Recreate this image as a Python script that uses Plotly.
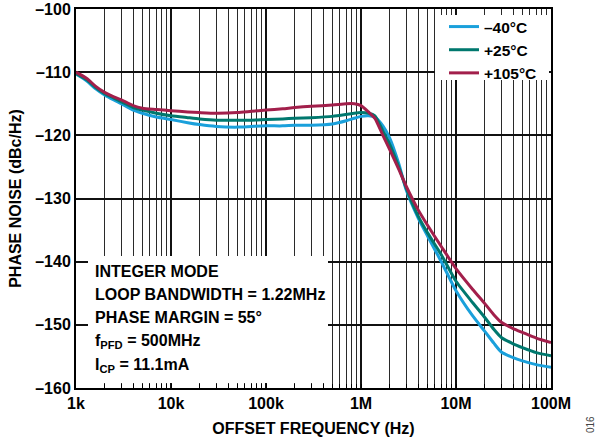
import plotly.graph_objects as go

freq_hz = [1e3, 1.3e3, 1.6e3, 2e3, 2.5e3, 3e3, 4e3, 5e3, 7e3, 1e4, 1.5e4, 2e4, 3e4, 5e4, 7e4,
           1e5, 1.5e5, 2e5, 3e5, 5e5, 7e5, 8.5e5, 1e6, 1.2e6, 1.4e6, 1.7e6, 2e6, 2.5e6, 3e6,
           4e6, 5e6, 7e6, 1e7, 1.5e7, 2e7, 2.5e7, 3e7, 4e7, 5e7, 7e7, 1e8]

pn_m40 = [-110.3, -111.4, -112.6, -113.6, -114.4, -115.0, -116.0, -116.5, -117.1, -117.5, -118.0,
          -118.3, -118.6, -118.7, -118.6, -118.5, -118.5, -118.4, -118.4, -118.2, -117.7, -117.3,
          -117.0, -116.9, -117.1, -118.5, -120.4, -124.5, -128.7, -133.1, -135.9, -140.0, -144.6,
          -148.6, -151.0, -152.9, -154.3, -155.2, -155.7, -156.3, -156.7]

pn_p25 = [-110.2, -111.2, -112.4, -113.4, -114.1, -114.7, -115.6, -116.0, -116.5, -116.9, -117.2,
          -117.4, -117.6, -117.6, -117.6, -117.5, -117.4, -117.3, -117.2, -117.0, -116.7, -116.5,
          -116.4, -116.5, -116.9, -119.3, -121.4, -125.0, -128.4, -132.8, -135.4, -138.9, -143.1,
          -146.5, -148.8, -150.7, -152.0, -153.0, -153.6, -154.4, -154.9]

pn_p105 = [-110.0, -111.0, -112.2, -113.2, -113.9, -114.4, -115.3, -115.7, -115.9, -116.1, -116.3,
           -116.4, -116.5, -116.4, -116.2, -116.0, -115.8, -115.6, -115.4, -115.2, -115.0, -115.0,
           -115.3, -116.3, -117.3, -120.0, -122.2, -125.4, -128.1, -131.8, -134.2, -137.6, -141.1,
           -144.4, -146.6, -148.4, -149.6, -150.6, -151.2, -152.1, -152.8]

series_names = ["–40°C", "+25°C", "+105°C"]
series_colors = ["#1aa0db", "#00786e", "#a21f4b"]

x_tick_vals = [1e3, 1e4, 1e5, 1e6, 1e7, 1e8]
x_tick_text = ["1k", "10k", "100k", "1M", "10M", "100M"]
y_tick_vals = [-160, -150, -140, -130, -120, -110, -100]
y_tick_text = ["–160", "–150", "–140", "–130", "–120", "–110", "–100"]

note_lines = [
    "INTEGER MODE",
    "LOOP BANDWIDTH = 1.22MHz",
    "PHASE MARGIN = 55°",
    "f<sub>PFD</sub> = 500MHz",
    "I<sub>CP</sub> = 11.1mA",
]

FONT = "Liberation Sans, Arial, sans-serif"
FS = 16

W, H = 600, 444
PL, PR, PT, PB = 76, 551, 9, 388          # plot area in window pixels
ml, mr, mt, mb = PL, W - PR, PT, H - PB
plot_w = PR - PL
plot_h = PB - PT


def px_x(x):
    return (x - PL) / plot_w


def px_y(y):
    return 1 - (y - PT) / plot_h


fig = go.Figure()
for name, col, ys in zip(series_names, series_colors, [pn_m40, pn_p25, pn_p105]):
    fig.add_trace(go.Scatter(x=freq_hz, y=ys, mode="lines", name=name,
                             line=dict(color=col, width=3, shape="spline", smoothing=0.6)))

fig.update_layout(
    width=W, height=H,
    margin=dict(l=ml, r=mr, t=mt, b=mb, autoexpand=False),
    paper_bgcolor="white", plot_bgcolor="white",
    font=dict(family=FONT, size=FS, color="black"),
    showlegend=True,
    legend=dict(x=px_x(444), y=px_y(10), xanchor="left", yanchor="top",
                bgcolor="rgba(0,0,0,0)", borderwidth=0,
                font=dict(family=FONT, size=15.5, weight="bold", color="black"),
                tracegroupgap=0, itemwidth=30),
)

fig.update_xaxes(
    type="log", range=[3, 8], automargin=False,
    tickvals=x_tick_vals, ticktext=x_tick_text,
    tickfont=dict(family=FONT, size=FS, weight="bold"),
    ticks="inside", ticklen=4, tickcolor="black", tickwidth=1,
    showgrid=True, gridcolor="#111111", gridwidth=1.5,
    minor=dict(dtick="D1", showgrid=True, gridcolor="#2a2a2a", gridwidth=1.2,
               ticks="inside", ticklen=4, tickcolor="black"),
    showline=True, linecolor="black", linewidth=2, mirror=True,
    title=dict(text="OFFSET FREQUENCY (Hz)", font=dict(family=FONT, size=FS, weight="bold"),
               standoff=12),
    zeroline=False,
)
fig.update_yaxes(
    range=[-160, -100], automargin=False, ticklabeloverflow="allow",
    tickvals=y_tick_vals, ticktext=y_tick_text,
    tickfont=dict(family=FONT, size=FS, weight="bold"),
    showgrid=True, gridcolor="#111111", gridwidth=1.5,
    showline=True, linecolor="black", linewidth=2, mirror=True,
    title=dict(text="PHASE NOISE (dBc/Hz)", font=dict(family=FONT, size=FS, weight="bold"),
               standoff=10),
    zeroline=False,
)

# white backgrounds for the legend and the note block (traces never pass through them)
fig.add_shape(type="rect", xref="paper", yref="paper",
              x0=px_x(435), x1=px_x(549), y0=px_y(80), y1=px_y(15),
              fillcolor="white", line=dict(width=0), layer="above")
fig.add_shape(type="rect", xref="paper", yref="paper",
              x0=px_x(88), x1=px_x(328), y0=px_y(383), y1=px_y(256),
              fillcolor="white", line=dict(width=0), layer="above")

note_y_px = [271.5, 294, 317, 341, 365]
for txt, ypx in zip(note_lines, note_y_px):
    fig.add_annotation(text=txt, xref="paper", yref="paper",
                       x=px_x(93), y=px_y(ypx),
                       xanchor="left", yanchor="middle", showarrow=False,
                       font=dict(family=FONT, size=FS, weight="bold", color="black"))

fig.add_annotation(text="016", xref="paper", yref="paper", x=px_x(590),
                   y=px_y(425), textangle=-90, showarrow=False,
                   xanchor="center", yanchor="middle",
                   font=dict(family=FONT, size=10, color="#444444"))

# remove the page's default body margin so the 600x444 figure fills the window
fig.write_html("out.html", config={"displayModeBar": False},
               post_script="document.body.style.margin='0px';")
